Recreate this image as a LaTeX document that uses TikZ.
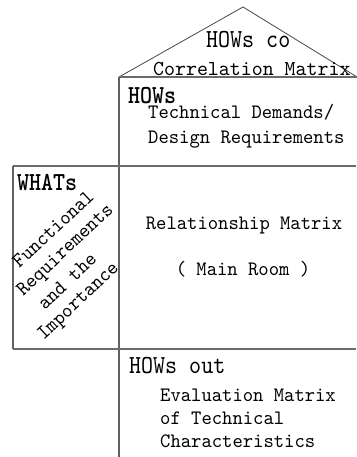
\documentclass[tikz,border=0pt]{standalone}
\usepackage{fontspec}
\newfontfamily\bodyfont{lmmono10-regular.otf}[FakeStretch=0.96,BoldFont=lmmonolt10-bold.otf]
\newfontfamily\capfont{lmmono10-regular.otf}[FakeStretch=0.98]
\newfontfamily\headfont{lmmono10-regular.otf}[FakeStretch=0.88,BoldFont=lmmonolt10-bold.otf,BoldFeatures={FakeStretch=0.88}]
\begin{document}
\begin{tikzpicture}[x=1pt,y=-1pt,
  frameline/.style={draw=black!58,line width=1.6pt},
  wallline/.style={draw=black!62,line width=1.3pt},
  roofline/.style={draw=black!72,line width=0.8pt},
  bodytext/.style={inner sep=0pt,anchor=base west,font=\bodyfont\fontsize{20.5}{23}\selectfont},
  captext/.style={inner sep=0pt,anchor=base west,font=\capfont\fontsize{21.3}{24}\selectfont},
  headtext/.style={inner sep=0pt,anchor=base west,font=\headfont\fontsize{26}{28}\selectfont},
  headbold/.style={headtext,font=\headfont\bfseries\fontsize{26}{28}\selectfont},
  slanttext/.style={inner sep=0pt,anchor=center,rotate=43,font=\bodyfont\fontsize{20.5}{23.5}\selectfont}]
\useasboundingbox (0,0) rectangle (356,457);

% corner points of the house
\coordinate (roofL) at (119,77);
\coordinate (roofT) at (243,7);
\coordinate (roofR) at (357,77);
\coordinate (midL) at (13,166);
\coordinate (midR) at (356,166);
\coordinate (lowL) at (13,349);
\coordinate (lowR) at (356,349);
\coordinate (wallTop) at (119,77);
\coordinate (wallBot) at (119,457);

% roof
\draw[roofline] (roofL) -- (roofT) -- (roofR);
\draw[frameline] (roofL) -- (roofR);

% main wall and floors
\draw[wallline] (wallTop) -- (wallBot);
\draw[frameline] (midL) -- (midR);
\draw[frameline] (lowL) -- (lowR);
\draw[wallline] (midL) -- (lowL);

% roof: correlation matrix
\node[headtext] (hco) at (206,48) {HOWs co};
\node[captext] (corr) at (153,76) {Correlation Matrix};

% ceiling: technical demands
\node[headbold] (hows) at (128,104) {HOWs};
\node[bodytext] (tech1) at (148,119) {Technical Demands/};
\node[bodytext] (tech2) at (148,143) {Design Requirements};

% left wing: customer requirements, set on the diagonal
\node[headbold] (whats) at (17,190) {WHATs};
\node[slanttext] (fr1) at (53,229) {Functional};
\node[slanttext] (fr2) at (66,251) {Requirements};
\node[slanttext] (fr3) at (67,281) {and the};
\node[slanttext] (fr4) at (79,302) {Importance};

% main room
\node[bodytext,anchor=base] (rel) at (244,229) {Relationship Matrix};
\node[bodytext,anchor=base] (room) at (243,275) {( Main Room )};

% basement: evaluation
\node[headtext] (hout) at (129,373) {HOWs out};
\node[bodytext] (ev1) at (160,401) {Evaluation Matrix};
\node[bodytext] (ev2) at (160,424) {of Technical};
\node[bodytext] (ev3) at (160,447) {Characteristics};
\end{tikzpicture}
\end{document}
